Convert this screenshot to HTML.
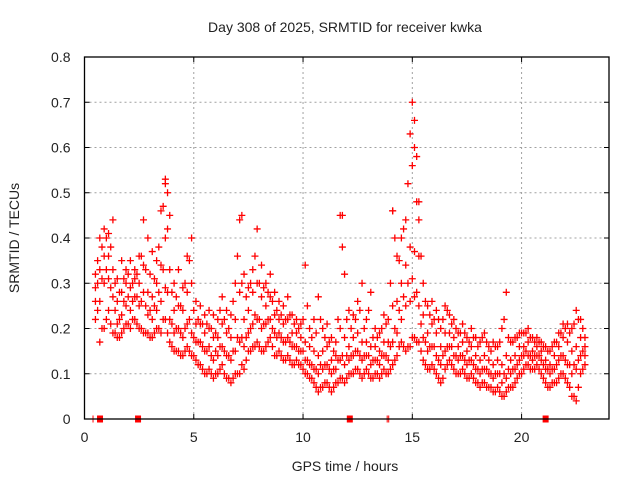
<!DOCTYPE html>
<html><head><meta charset="utf-8"><style>
body{margin:0;background:#fff;}
svg{display:block;font-family:"Liberation Sans",sans-serif;}
</style></head><body>
<svg id="chart" width="640" height="480" viewBox="0 0 640 480" xmlns="http://www.w3.org/2000/svg">
<rect width="640" height="480" fill="#fff"/>
<text x="345" y="32" text-anchor="middle" font-size="14" fill="#222">Day 308 of 2025, SRMTID for receiver kwka</text>
<g id="grid"></g>
<g id="ticks"></g>
<g id="points"></g>
<g id="markers"></g>
<rect x="84.5" y="57" width="524.5" height="362" fill="none" stroke="#000" stroke-width="1.3"/>
<text x="345" y="471" text-anchor="middle" font-size="14" fill="#222">GPS time / hours</text>
<text transform="translate(19,238) rotate(-90)" text-anchor="middle" font-size="14" fill="#222">SRMTID / TECUs</text>
</svg>
<script>
const xTicks=[0,5,10,15,20];
const yTicks=[0,0.1,0.2,0.3,0.4,0.5,0.6,0.7,0.8];
const yTickLabels=["0","0.1","0.2","0.3","0.4","0.5","0.6","0.7","0.8"];
const times=[0.5,0.7,0.9,1.1,1.3,1.5,1.7,1.9,2.1,2.3,2.5,2.7,2.9,3.1,3.3,3.5,3.7,3.9,4.1,4.3,4.5,4.7,4.9,5.1,5.3,5.5,5.7,5.9,6.1,6.3,6.5,6.7,6.9,7.1,7.3,7.5,7.7,7.9,8.1,8.3,8.5,8.7,8.9,9.1,9.3,9.5,9.7,9.9,10.1,10.3,10.5,10.7,10.9,11.1,11.3,11.5,11.7,11.9,12.1,12.3,12.5,12.7,12.9,13.1,13.3,13.5,13.7,13.9,14.1,14.3,14.5,14.7,14.9,15.1,15.3,15.5,15.7,15.9,16.1,16.3,16.5,16.7,16.9,17.1,17.3,17.5,17.7,17.9,18.1,18.3,18.5,18.7,18.9,19.1,19.3,19.5,19.7,19.9,20.1,20.3,20.5,20.7,20.9,21.1,21.3,21.5,21.7,21.9,22.1,22.3,22.5,22.7,22.9];
const lowVals=[.22,.17,.20,.24,.19,.18,.19,.21,.20,.22,.20,.19,.19,.18,.20,.19,.22,.17,.15,.15,.14,.16,.14,.13,.12,.10,.11,.09,.10,.12,.09,.08,.10,.10,.11,.15,.16,.17,.15,.16,.18,.14,.15,.13,.14,.12,.13,.12,.10,.09,.08,.06,.07,.08,.06,.08,.09,.08,.10,.10,.11,.09,.11,.09,.10,.09,.11,.10,.12,.14,.17,.15,.16,.18,.17,.13,.11,.12,.10,.08,.11,.13,.11,.10,.11,.09,.10,.08,.07,.08,.07,.06,.07,.05,.06,.07,.08,.10,.11,.12,.11,.12,.10,.08,.07,.08,.09,.10,.08,.05,.04,.10,.12];
const midLowVals=[.26,.26,.30,.31,.27,.21,.23,.25,.24,.27,.25,.28,.23,.22,.24,.26,.29,.22,.19,.20,.18,.21,.19,.17,.17,.15,.16,.13,.14,.16,.14,.13,.15,.17,.16,.19,.21,.22,.20,.21,.22,.19,.19,.17,.18,.16,.16,.15,.13,.12,.11,.10,.11,.12,.10,.11,.13,.12,.13,.14,.15,.13,.14,.12,.13,.12,.14,.13,.17,.19,.22,.25,.26,.27,.25,.18,.15,.16,.14,.12,.15,.16,.14,.13,.14,.12,.13,.11,.10,.11,.10,.09,.10,.08,.09,.10,.11,.13,.14,.14,.13,.14,.13,.11,.10,.11,.13,.14,.12,.10,.11,.14,.14];
const midHighVals=[.29,.33,.36,.36,.33,.26,.28,.30,.29,.31,.30,.34,.28,.27,.30,.34,.40,.33,.24,.25,.24,.28,.30,.21,.21,.19,.20,.18,.18,.21,.19,.18,.22,.28,.22,.24,.28,.30,.27,.25,.27,.23,.22,.21,.22,.19,.19,.18,.17,.16,.15,.14,.15,.16,.13,.14,.20,.18,.16,.18,.19,.17,.17,.16,.16,.15,.17,.17,.25,.26,.30,.34,.38,.37,.36,.23,.19,.21,.19,.16,.19,.19,.18,.16,.17,.15,.16,.14,.13,.14,.13,.12,.13,.12,.14,.13,.14,.16,.16,.17,.15,.16,.15,.13,.12,.14,.16,.18,.17,.15,.16,.18,.16];
const highVals=[.32,.40,.42,.41,.44,.31,.35,.33,.35,.33,.36,.44,.40,.37,.35,.46,.52,.45,.30,.33,.29,.36,.40,.26,.25,.23,.24,.23,.22,.27,.24,.23,.30,.44,.32,.29,.33,.42,.34,.30,.32,.28,.26,.25,.27,.23,.22,.21,.34,.20,.22,.27,.20,.21,.18,.17,.45,.32,.24,.23,.26,.30,.22,.28,.20,.19,.23,.22,.46,.36,.40,.44,.63,.60,.44,.30,.25,.26,.24,.20,.25,.23,.22,.19,.21,.18,.20,.18,.17,.19,.16,.17,.16,.20,.28,.17,.18,.19,.19,.20,.18,.18,.17,.16,.15,.17,.19,.21,.21,.20,.24,.22,.18];
const times2=[0.6,0.8,1.0,1.2,1.4,1.6,1.8,2.0,2.2,2.4,2.6,2.8,3.0,3.2,3.4,3.6,3.8,4.0,4.2,4.4,4.6,4.8,5.0,5.2,5.4,5.6,5.8,6.0,6.2,6.4,6.6,6.8,7.0,7.2,7.4,7.6,7.8,8.0,8.2,8.4,8.6,8.8,9.0,9.2,9.4,9.6,9.8,10.0,10.2,10.4,10.6,10.8,11.0,11.2,11.4,11.6,11.8,12.0,12.2,12.4,12.6,12.8,13.0,13.2,13.4,13.6,13.8,14.0,14.2,14.4,14.6,14.8,15.0,15.2,15.4,15.6,15.8,16.0,16.2,16.4,16.6,16.8,17.0,17.2,17.4,17.6,17.8,18.0,18.2,18.4,18.6,18.8,19.0,19.2,19.4,19.6,19.8,20.0,20.2,20.4,20.6,20.8,21.0,21.2,21.4,21.6,21.8,22.0,22.2,22.4,22.6,22.8];
const low2=[.24,.20,.22,.21,.19,.18,.20,.21,.22,.21,.20,.19,.18,.19,.20,.22,.19,.16,.15,.14,.15,.15,.14,.12,.11,.10,.10,.10,.11,.10,.09,.09,.10,.12,.13,.15,.16,.16,.15,.17,.16,.14,.14,.13,.13,.12,.12,.11,.10,.09,.07,.07,.08,.07,.07,.08,.09,.09,.10,.11,.10,.10,.10,.09,.10,.10,.10,.11,.13,.16,.16,.16,.18,.17,.15,.12,.11,.11,.09,.09,.12,.12,.10,.10,.10,.09,.09,.08,.08,.07,.07,.06,.06,.05,.07,.07,.09,.10,.12,.11,.11,.11,.09,.07,.08,.08,.10,.09,.07,.05,.07,.11];
const mid2=[.30,.31,.33,.29,.24,.22,.26,.27,.26,.27,.26,.25,.24,.25,.28,.33,.28,.21,.20,.19,.20,.22,.18,.17,.16,.15,.14,.15,.16,.15,.14,.15,.18,.18,.18,.20,.23,.22,.21,.22,.20,.18,.18,.17,.17,.16,.15,.15,.13,.12,.11,.12,.12,.11,.11,.13,.14,.14,.14,.15,.14,.14,.14,.13,.13,.14,.14,.16,.20,.24,.27,.30,.31,.28,.21,.17,.16,.16,.13,.14,.16,.16,.14,.14,.13,.13,.12,.11,.11,.11,.10,.10,.10,.10,.11,.11,.12,.14,.15,.14,.14,.14,.12,.11,.11,.12,.14,.13,.12,.12,.13,.15];
const high2=[.35,.38,.40,.38,.30,.28,.31,.32,.30,.32,.36,.33,.32,.31,.38,.47,.42,.28,.27,.25,.30,.35,.24,.22,.21,.21,.20,.19,.24,.22,.20,.26,.36,.30,.27,.30,.36,.30,.29,.28,.26,.24,.23,.22,.23,.21,.20,.22,.25,.18,.19,.22,.18,.17,.15,.22,.38,.22,.20,.22,.24,.20,.24,.18,.18,.20,.21,.30,.40,.35,.42,.52,.56,.48,.36,.26,.23,.22,.22,.22,.24,.21,.20,.19,.19,.17,.18,.16,.18,.17,.15,.16,.17,.22,.18,.17,.18,.19,.19,.18,.17,.17,.16,.15,.16,.17,.19,.20,.19,.21,.22,.20];
const spikeTimes=[3.7,3.8,7.2,11.8,14.1,15.0,15.1,15.2,15.3];
const spikeVals=[0.53,0.50,0.45,0.45,0.46,0.70,0.66,0.58,0.48];
const squareTimes=[0.71,2.45,12.14,21.1];
const tickMarkTimes=[0.39,13.85,13.92];

const NS="http://www.w3.org/2000/svg";
const L=84.5,R=609,T=57,B=419;
const sx=t=>L+(t/24)*(R-L);
const sy=v=>B-(v/0.8)*(B-T);
function mk(tag,attrs,parent){const e=document.createElementNS(NS,tag);for(const k in attrs)e.setAttribute(k,attrs[k]);parent.appendChild(e);return e;}
const grid=document.getElementById('grid'),ticks=document.getElementById('ticks'),pts=document.getElementById('points'),mks=document.getElementById('markers');
xTicks.forEach((t,i)=>{
  const x=sx(t);
  if(t>0){const g=mk('line',{x1:x,x2:x,y1:T,y2:B,stroke:'#a0a0a0','stroke-dasharray':'2,3','stroke-width':1},grid);
  
  }
  const tk=mk('path',{d:`M${x},${B}v-5M${x},${T}v5`,stroke:'#000','stroke-width':1},ticks);
  
  
  const lb=mk('text',{x:x,y:B+23,'text-anchor':'middle','font-size':14,fill:'#222'},ticks);
  lb.textContent=String(t);
  
  
});
yTicks.forEach((v,i)=>{
  const y=sy(v);
  if(v>0&&v<0.8){const g=mk('line',{x1:L,x2:R,y1:y,y2:y,stroke:'#a0a0a0','stroke-dasharray':'2,3','stroke-width':1},grid);
  
  }
  const tk=mk('path',{d:`M${L},${y}h5M${R},${y}h-5`,stroke:'#000','stroke-width':1},ticks);
  
  
  const lb=mk('text',{x:L-14,y:y+5,'text-anchor':'end','font-size':14,fill:'#222'},ticks);
  lb.textContent=yTickLabels[i];
  
  
});
function plus(t,v){
  const x=sx(t),y=sy(v);
  const p=mk('path',{d:`M${x-3.5},${y}h7M${x},${y-3.5}v7`,stroke:'#ff0000','stroke-width':1.3,fill:'none'},pts);
  
  
}
[lowVals,midLowVals,midHighVals,highVals].forEach(arr=>arr.forEach((v,i)=>plus(times[i],v)));
[low2,mid2,high2].forEach(arr=>arr.forEach((v,i)=>plus(times2[i],v)));
spikeTimes.forEach((t,i)=>plus(t,spikeVals[i]));
squareTimes.forEach(t=>{
  const r=mk('rect',{x:sx(t)-3,y:B-3.5,width:6,height:7,fill:'#ff0000'},mks);
  
  
});
tickMarkTimes.forEach(t=>{
  const l=mk('line',{x1:sx(t),x2:sx(t),y1:B-3.5,y2:B+3.5,stroke:'#ff0000','stroke-width':1},mks);
  
  
});
</script>
</body></html>
